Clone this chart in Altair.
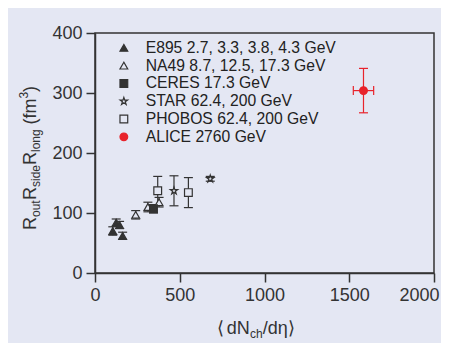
import altair as alt
import pandas as pd

BG = "#e4e7f3"
INK = "#333333"
RED = "#e8232b"
FONT = "Liberation Sans"

series_names = [
    "E895 2.7, 3.3, 3.8, 4.3 GeV",
    "NA49 8.7, 12.5, 17.3 GeV",
    "CERES 17.3 GeV",
    "STAR 62.4, 200 GeV",
    "PHOBOS 62.4, 200 GeV",
    "ALICE 2760 GeV",
]

e895_x = [105, 125, 145, 163]
e895_y = [70, 84, 80, 62]
e895_err = [7, 6, 6, 6]

na49_x = [240, 312, 378]
na49_y = [97, 110, 118]
na49_err = [7, 8, 8]

ceres_x = [345]
ceres_y = [107]
ceres_err = [7]

star_x = [466, 680]
star_y = [137, 157]
star_err = [25, 4]

phobos_x = [370, 551]
phobos_y = [137, 134]
phobos_err = [24, 25]

alice_x = [1584]
alice_y = [304]
alice_err = [37]
alice_xerr = [60]

x_ticks = [0, 500, 1000, 1500, 2000]
y_ticks = [0, 100, 200, 300, 400]

STAR_PATH = ("M0,-1L0.2245,-0.309L0.951,-0.309L0.363,0.118L0.588,0.809L0,0.382"
             "L-0.588,0.809L-0.363,0.118L-0.951,-0.309L-0.2245,-0.309Z")
shapes = ["triangle-up", "triangle-up", "square", STAR_PATH, "square", "circle"]
strokes = [INK, INK, INK, INK, INK, RED]
fills = [INK, BG, INK, BG, BG, RED]
sizes = [60, 60, 55, 80, 70, 45]

rows = []
groups = [
    (series_names[0], e895_x, e895_y, e895_err, None),
    (series_names[1], na49_x, na49_y, na49_err, None),
    (series_names[2], ceres_x, ceres_y, ceres_err, None),
    (series_names[3], star_x, star_y, star_err, None),
    (series_names[4], phobos_x, phobos_y, phobos_err, None),
    (series_names[5], alice_x, alice_y, alice_err, alice_xerr),
]
for name, xs_, ys_, errs, xerrs in groups:
    col = RED if name.startswith("ALICE") else INK
    for i, (xv, yv, ev) in enumerate(zip(xs_, ys_, errs)):
        xe = xerrs[i] if xerrs else 0
        rows.append(dict(series=name, x=xv, y=yv, ylo=yv - ev, yhi=yv + ev,
                         xlo=xv - xe, xhi=xv + xe, xe=xe, ecol=col))
df = pd.DataFrame(rows)

xs = alt.Scale(domain=[0, 2000], nice=False)
ys = alt.Scale(domain=[0, 400], nice=False)
X = lambda f: alt.X(f"{f}:Q", scale=xs, axis=alt.Axis(values=x_ticks, title=None, format="d",
                                                       labelFlush=True, labelFlushOffset=5))
Y = lambda f: alt.Y(f"{f}:Q", scale=ys, axis=alt.Axis(values=y_ticks, title=None, format="d",
                                                       labelFlush=False))
ecolor = alt.Color("ecol:N", scale=None)

base = alt.Chart(df)
vrule = base.mark_rule(strokeWidth=1.2).encode(x=X("x"), y=Y("ylo"), y2="yhi:Q", color=ecolor)
cap_lo = base.mark_tick(orient="horizontal", size=9, thickness=1.2, opacity=1).encode(
    x=X("x"), y=Y("ylo"), color=ecolor)
cap_hi = base.mark_tick(orient="horizontal", size=9, thickness=1.2, opacity=1).encode(
    x=X("x"), y=Y("yhi"), color=ecolor)
hbase = base.transform_filter("datum.xe > 0")
hrule = hbase.mark_rule(strokeWidth=1.2).encode(x=X("xlo"), x2="xhi:Q", y=Y("y"), color=ecolor)
hcap_lo = hbase.mark_tick(orient="vertical", size=9, thickness=1.2, opacity=1).encode(
    x=X("xlo"), y=Y("y"), color=ecolor)
hcap_hi = hbase.mark_tick(orient="vertical", size=9, thickness=1.2, opacity=1).encode(
    x=X("xhi"), y=Y("y"), color=ecolor)

leg = alt.Legend(title=None, orient="none", legendX=21, legendY=7, padding=0,
                 labelFontSize=15.7, labelFont=FONT, labelColor="#222222",
                 labelLimit=400, labelOffset=14, rowPadding=0.8,
                 symbolStrokeWidth=1.2)
points = base.mark_point(strokeWidth=1.2, opacity=1).encode(
    x=X("x"), y=Y("y"),
    shape=alt.Shape("series:N", scale=alt.Scale(domain=series_names, range=shapes), legend=leg),
    stroke=alt.Stroke("series:N", scale=alt.Scale(domain=series_names, range=strokes), legend=leg),
    fill=alt.Fill("series:N", scale=alt.Scale(domain=series_names, range=fills), legend=leg),
    size=alt.Size("series:N", scale=alt.Scale(domain=series_names, range=sizes), legend=leg),
)

# axis titles built from pieces (main text, subscripts, superscript)
ytitle = [
    ("R", 18, -59, 197), ("out", 12, -55, 184), ("R", 18, -59, 167),
    ("side", 12, -55, 154), ("R", 18, -59, 132), ("long", 12, -55, 119),
    ("(fm", 18, -59, 91.6), ("3", 12, -67.5, 65.6), (")", 18, -59, 58.9),
]
xtitle = [
    ("\u27e8", 18, 121.7, 301), ("dN", 18, 131.7, 301), ("ch", 12, 155, 305),
    ("/d\u03b7", 18, 167.7, 301), ("\u27e9", 18, 193, 301),
]
texts = []
for t, fs, px, py in ytitle:
    texts.append(alt.Chart(pd.DataFrame({"t": [t]})).mark_text(
        align="left", baseline="alphabetic", angle=270, fontSize=fs, font=FONT, color=INK
    ).encode(x=alt.value(px), y=alt.value(py), text="t:N"))
for t, fs, px, py in xtitle:
    texts.append(alt.Chart(pd.DataFrame({"t": [t]})).mark_text(
        align="left", baseline="alphabetic", fontSize=fs, font=FONT, color=INK
    ).encode(x=alt.value(px), y=alt.value(py), text="t:N"))

chart = alt.layer(vrule, cap_lo, cap_hi, hrule, hcap_lo, hcap_hi, points, *texts).properties(
    width=339, height=240,
    autosize=alt.AutoSizeParams(type="none"),
    padding={"left": 87, "top": 25, "right": 7, "bottom": 70},
    background=BG,
).configure_view(stroke=INK, strokeWidth=1.5).configure_axis(
    grid=False, domainColor=INK, domainWidth=1.5, tickColor=INK, tickWidth=1.5,
    tickSize=9, labelFont=FONT, labelFontSize=18, labelColor=INK, labelPadding=4,
)

chart.save("out.html", embed_options={"renderer": "svg", "actions": False})
